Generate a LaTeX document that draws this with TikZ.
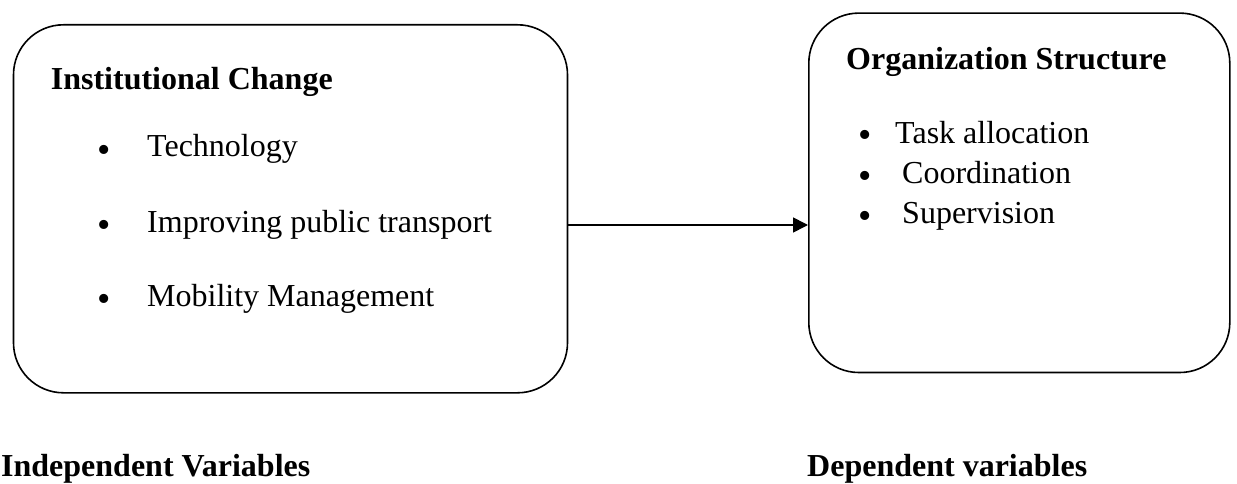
\documentclass[tikz,border=0pt]{standalone}
\usepackage{fontspec}
\setmainfont{Liberation Serif}
\usetikzlibrary{arrows.meta}
\begin{document}
\begin{tikzpicture}[x=1pt,y=-1pt,
  box/.style={draw, line width=1.6pt, rounded corners=50pt, inner sep=0pt, anchor=north west},
  txt/.style={anchor=base west, inner sep=0pt, font=\fontsize{32}{38}\selectfont},
  bold/.style={anchor=base west, inner sep=0pt, font=\fontsize{32}{38}\selectfont\bfseries},
  bul/.style={anchor=base, inner sep=0pt, font=\fontsize{38}{38}\selectfont},
  conn/.style={line width=1.6pt, -{Triangle[length=15pt,width=15pt]}}]
\useasboundingbox (0,0) rectangle (1237,484);
% boxes
\node[box, minimum width=554pt, minimum height=368pt] (lbox) at (12.7,24) {};
\node[box, minimum width=421pt, minimum height=359.4pt] (rbox) at (808,12.3) {};
% left box text
\node[bold] (t1) at (50.7,90) {Institutional Change};
\node[bul] (b1) at (104,162) {•};
\node[txt] (i1) at (147,157) {Technology};
\node[bul] (b2) at (104,237) {•};
\node[txt] (i2) at (147,232) {Improving public transport};
\node[bul] (b3) at (104,311) {•};
\node[txt] (i3) at (147,306) {Mobility Management};
% right box text
\node[bold] (t2) at (846,70) {Organization Structure};
\node[bul] (b4) at (865,148) {•};
\node[txt] (j1) at (895,143) {Task allocation};
\node[bul] (b5) at (865,188) {•};
\node[txt] (j2) at (902,183) {Coordination};
\node[bul] (b6) at (865,228) {•};
\node[txt] (j3) at (902,223) {Supervision};
% bottom labels
\node[bold] (l1) at (1,476) {Independent Variables};
\node[bold] (l2) at (807,476) {Dependent variables};
% connector
\coordinate (ay) at (0,225);
\draw[conn] (lbox.east |- ay) -- (rbox.west |- ay);
\end{tikzpicture}
\end{document}
